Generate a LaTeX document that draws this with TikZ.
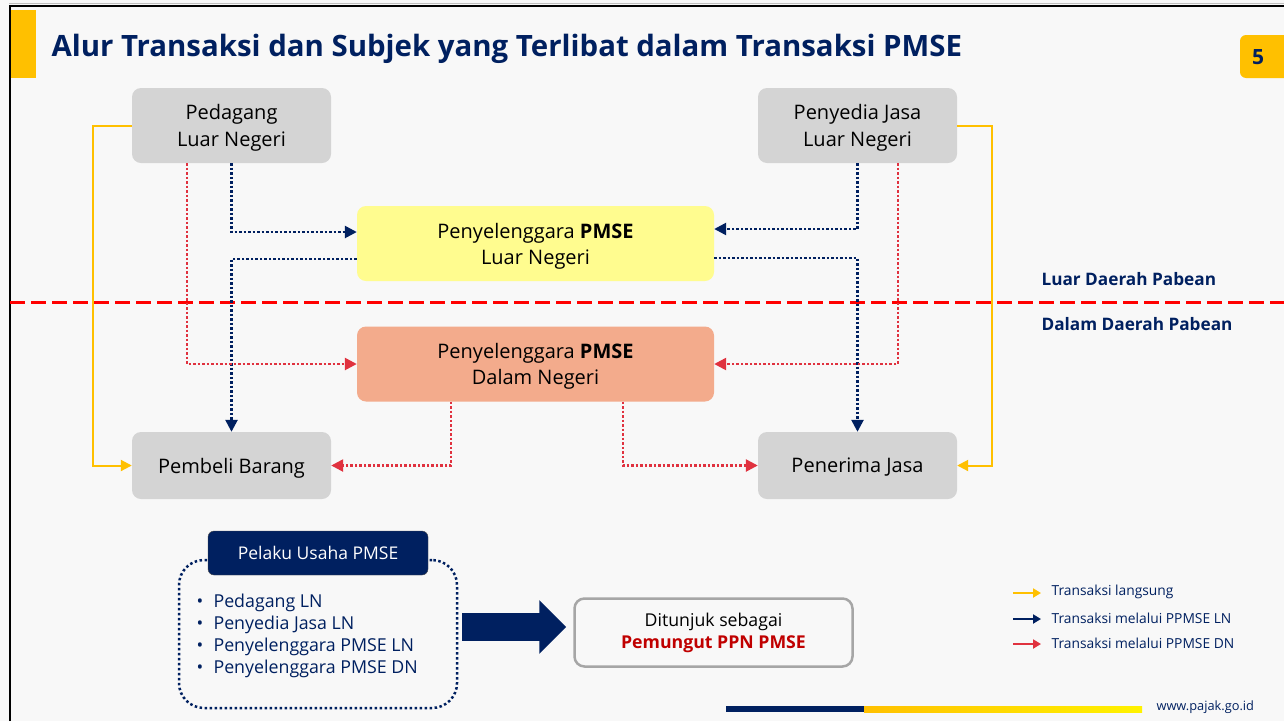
\documentclass[tikz,border=0pt]{standalone}
\usepackage{fontspec}
\setmainfont{Open Sans}
\usepackage{tikz}
\usetikzlibrary{arrows,arrows.meta}
\usepackage{xcolor}
\definecolor{navy}{HTML}{002060}
\definecolor{gold}{HTML}{FFC000}
\definecolor{redline}{HTML}{E0323F}
\definecolor{boxgrey}{HTML}{D4D4D4}
\definecolor{lnyellow}{HTML}{FFFC8F}
\definecolor{dnsalmon}{HTML}{F3AB8C}
\definecolor{bgpage}{HTML}{F8F8F8}
\definecolor{pungut}{HTML}{C00000}
\tikzstyle{party}=[rounded corners=9pt, fill=boxgrey, minimum width=199pt, inner sep=0pt, text depth=0pt, align=center, font=\fontsize{20}{27}\selectfont]
\tikzstyle{platform}=[rounded corners=9pt, minimum width=357pt, minimum height=75pt, inner sep=0pt, text depth=0pt, align=center, font=\fontsize{20}{26}\selectfont]
\tikzstyle{direct}=[gold, line width=2pt, -{Triangle[length=11pt,width=11pt]}]
\tikzstyle{vialn}=[navy, line width=2.5pt, dash pattern=on 2.5pt off 2pt, -{Triangle[length=12pt,width=12pt]}]
\tikzstyle{viadn}=[redline, line width=2.5pt, dash pattern=on 2.5pt off 2pt, -{Triangle[length=12pt,width=12pt]}]
\newcommand{\legarrow}[4]{
 \node[anchor=west, text=navy, font=\fontsize{13.8}{15}\selectfont] (#3) at (1048,#2) {#4};
 \draw[#1, line width=2.5pt, -{Triangle[length=8pt,width=9pt]}] ([xshift=-35pt,yshift=-1pt]#3.west) -- ++(28,0);
}
\newcommand{\bul}{\makebox[17pt][l]{\textbullet}}

\begin{document}
\begin{tikzpicture}[x=1pt, y=-1pt]
 \useasboundingbox (0,0) rectangle (1284,721);
 \fill[bgpage] (0,0) rectangle (1284,721);
 \draw[black!25, line width=1pt] (9,3.5) -- (1284,3.5);
 \draw[black, line width=2pt] (10,721) -- (10,5.5) -- (1284,5.5);
 \fill[gold] (11,10) rectangle (36,78);
 \node[anchor=base west, text=navy, font=\fontsize{29.4}{34}\selectfont\bfseries] (title) at (48,56)
  {Alur Transaksi dan Subjek yang Terlibat dalam Transaksi PMSE};
 \fill[gold, rounded corners=6pt] (1240,35) rectangle (1300,78);
 \node[text=navy, font=\fontsize{21}{24}\selectfont\bfseries] (page) at (1258,57) {5};
%
 \draw[red, line width=3pt, dash pattern=on 15pt off 6pt] (10,302) -- (1284,302);
 \node[anchor=west, text=navy, font=\fontsize{17.2}{18}\selectfont\bfseries] (luar) at (1038,279) {Luar Daerah Pabean};
 \node[anchor=west, text=navy, font=\fontsize{17.2}{18}\selectfont\bfseries] (dalam) at (1038,324) {Dalam Daerah Pabean};
%
 \node[party, minimum height=75pt] (pedagang) at (231.5,125.5) {Pedagang\\Luar Negeri};
 \node[party, minimum height=75pt] (penyedia) at (857.5,125.5) {Penyedia Jasa\\Luar Negeri};
 \node[platform, fill=lnyellow] (ppmseln) at (535.5,243.5) {Penyelenggara \textbf{PMSE}\\Luar Negeri};
 \node[platform, fill=dnsalmon] (ppmsedn) at (535.5,364) {Penyelenggara \textbf{PMSE}\\Dalam Negeri};
 \node[party, minimum height=67pt] (pembeli) at (231.5,465.5) {Pembeli Barang};
 \node[party, minimum height=67pt] (penerima) at (857.5,465.5) {Penerima Jasa};
%
 \draw[direct] (pedagang.west) -- ++(-39,0) |- (pembeli.west);
 \draw[direct] (penyedia.east) -- ++(35,0) |- (penerima.east);
 \draw[vialn] (pedagang.south) |- ([yshift=11.5pt]ppmseln.west);
 \draw[vialn] ([yshift=-15.5pt]ppmseln.west) -| (pembeli.north);
 \draw[vialn] (penyedia.south) |- ([yshift=14.5pt]ppmseln.east);
 \draw[vialn] ([yshift=-14.5pt]ppmseln.east) -| (penerima.north);
 \draw[viadn] ([xshift=-44.5pt]pedagang.south) |- (ppmsedn.west);
 \draw[viadn] ([xshift=40.5pt]penyedia.south) |- (ppmsedn.east);
 \draw[viadn] ([xshift=-84.5pt]ppmsedn.south) |- (pembeli.east);
 \draw[viadn] ([xshift=87.5pt]ppmsedn.south) |- (penerima.west);
%
 \node[draw=navy, line width=2.5pt, dash pattern=on 2.5pt off 2.5pt, rounded corners=25pt,
  minimum width=278pt, minimum height=148pt] (usaha) at (318,634) {};
 \node[fill=navy, draw=black!70, rounded corners=6pt, minimum width=220pt, minimum height=44pt,
  text=white, font=\fontsize{17.5}{18}\selectfont] (pelaku) at (318,553) {Pelaku Usaha PMSE};
 \node[anchor=west, align=left, text=navy, font=\fontsize{17.8}{22}\selectfont] (daftar) at (193,636)
  {\bul Pedagang LN\\ \bul Penyedia Jasa LN\\ \bul Penyelenggara PMSE LN\\ \bul Penyelenggara PMSE DN};
 \node[draw=black!35, fill=bgpage, line width=2.5pt, rounded corners=10pt, minimum width=278pt,
  minimum height=68pt, align=center, font=\fontsize{17.7}{22}\selectfont] (ditunjuk) at (713.5,632.5)
  {Ditunjuk sebagai\\ \textcolor{pungut}{\textbf{Pemungut PPN PMSE}}};
 \draw[navy, line width=28pt, -{Triangle[length=27pt,width=52pt]}] ([xshift=4pt,yshift=7pt]usaha.east) -- ++(104,0);
%
 \legarrow{gold}{592}{langsung}{Transaksi langsung}
 \legarrow{navy}{618}{melaluiln}{Transaksi melalui PPMSE LN}
 \legarrow{redline}{643}{melaluidn}{Transaksi melalui PPMSE DN}
%
 \fill[navy] (726,706) rectangle (864,712);
 \shade[left color=gold, right color=yellow!90!orange] (864,706) rectangle (1142,712);
 \node[anchor=west, text=navy, font=\fontsize{12.8}{14}\selectfont] (www) at (1153,707) {www.pajak.go.id};
\end{tikzpicture}
\end{document}
